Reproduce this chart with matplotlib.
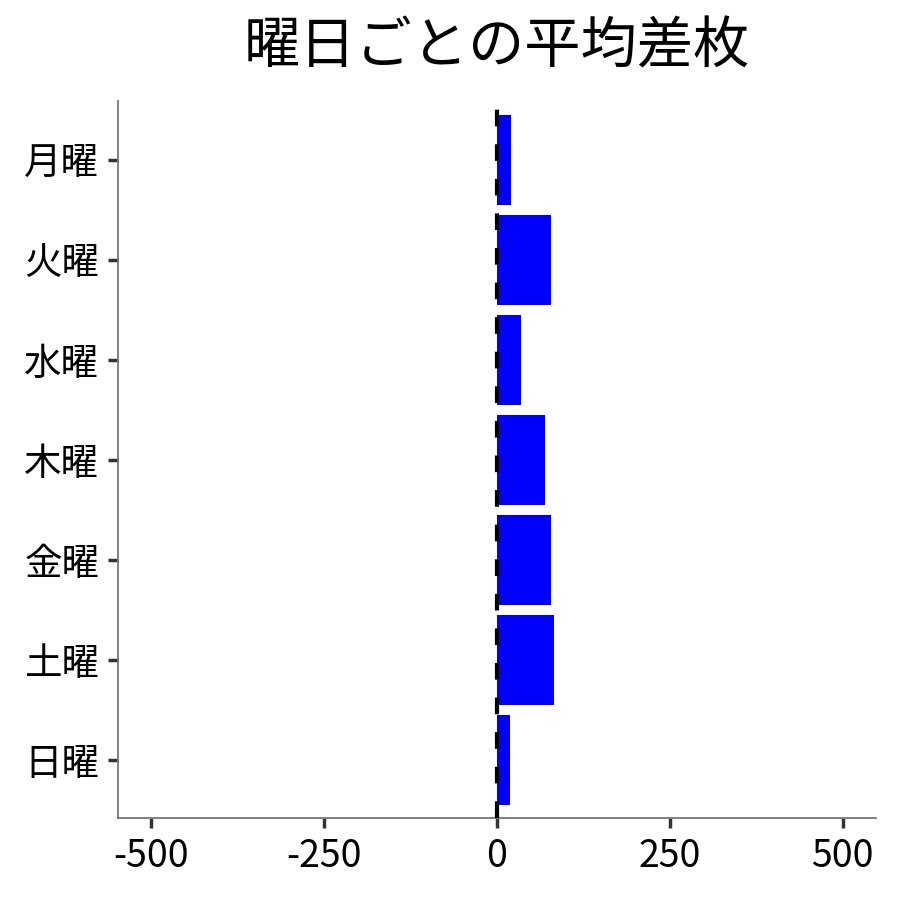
import matplotlib
matplotlib.use("Agg")
import matplotlib.pyplot as plt
import numpy as np

plt.rcParams["font.family"] = ["Noto Sans CJK JP", "DejaVu Sans"]

# mean difference per weekday
days = ["月曜", "火曜", "水曜", "木曜", "金曜", "土曜", "日曜"]
avg_diff = [21, 78, 35, 69, 78, 83, 19]
x_ticks = [-500, -250, 0, 250, 500]

fig = plt.figure(figsize=(9, 9), dpi=100)
ax = fig.add_axes([0.131, 0.091, 0.842, 0.797])

y = np.arange(len(days))
ax.barh(y, avg_diff, height=0.9, color="#0000ff", zorder=2)
ax.axvline(0, color="black", lw=3, dashes=(4, 4.3), zorder=3)

ax.set_yticks(y)
ax.set_yticklabels(days)
ax.set_ylim(len(days) - 1 + 0.58, -0.59)
ax.set_xticks(x_ticks)
ax.set_xticklabels([str(v) for v in x_ticks])
ax.set_xlim(-548, 548)

for side in ["top", "right"]:
    ax.spines[side].set_visible(False)
for side in ["left", "bottom"]:
    ax.spines[side].set_color("#777777")
    ax.spines[side].set_linewidth(1.3)

ax.tick_params(axis="both", length=7.5, width=2.5, color="#333333",
               labelsize=27, pad=6)
ax.set_title("曜日ごとの平均差枚", fontsize=40.5, pad=27)

fig.savefig("out.png", dpi=100)
